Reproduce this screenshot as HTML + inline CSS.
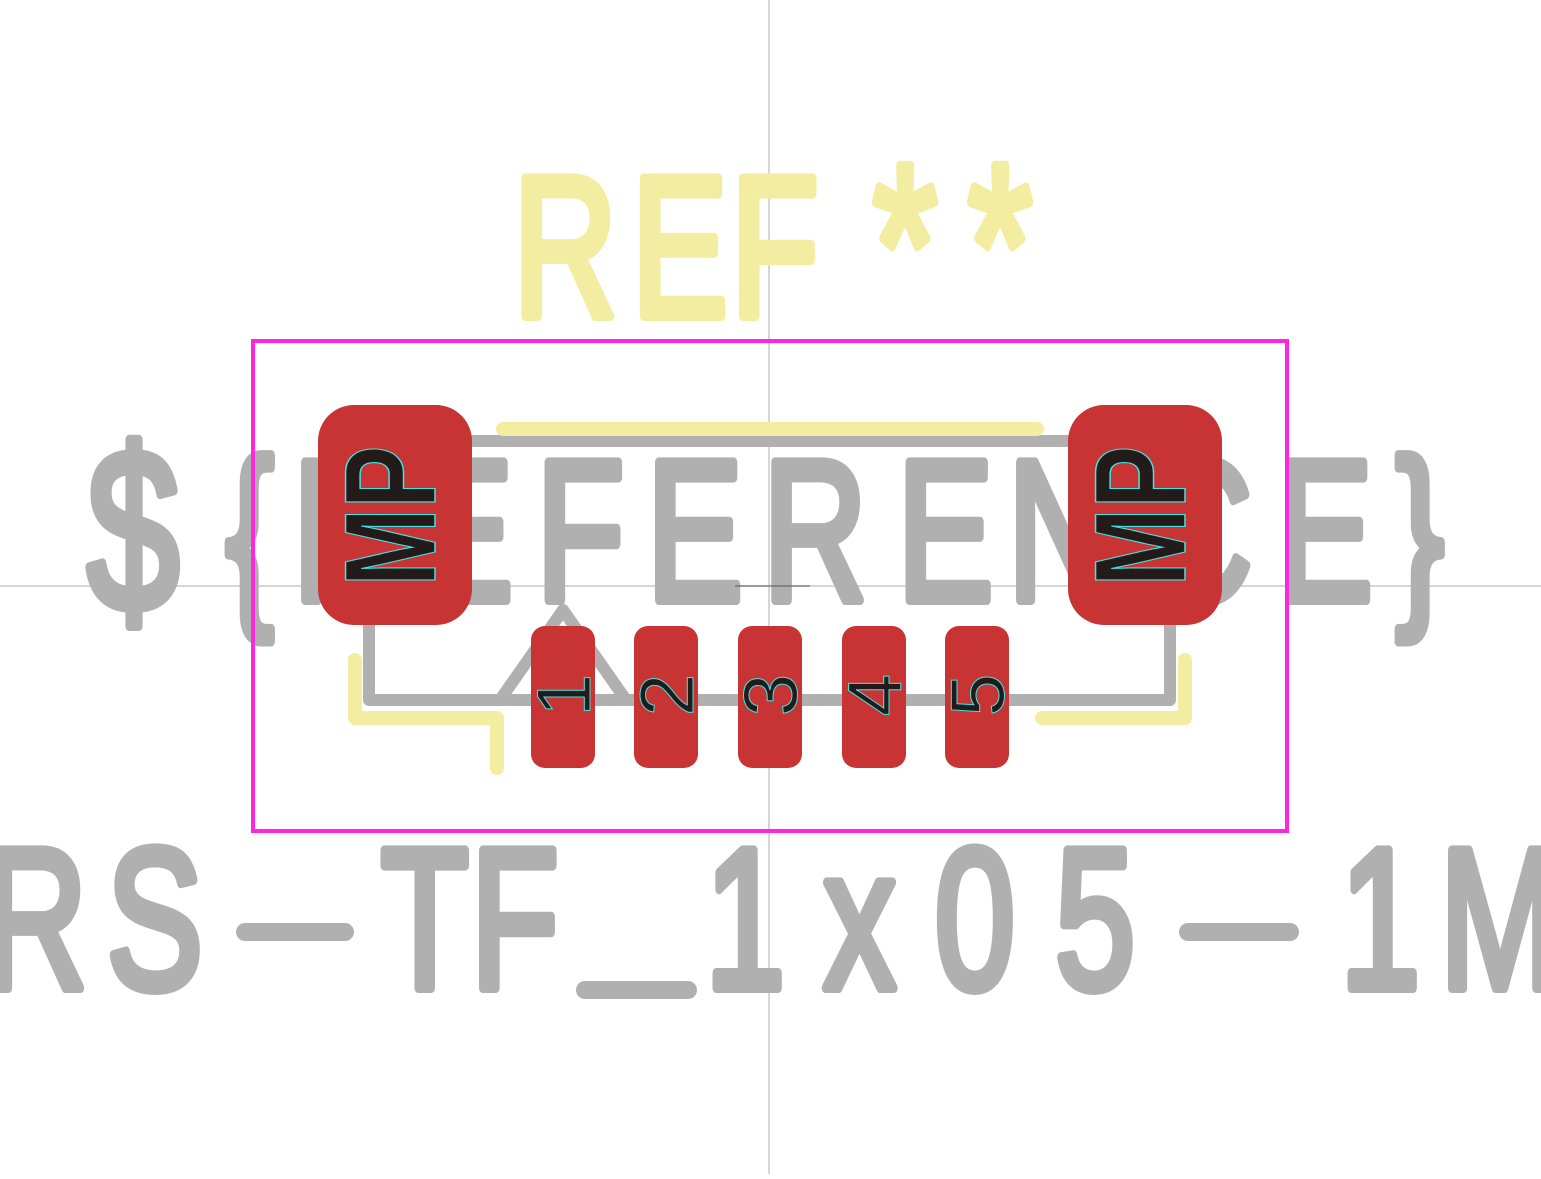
<!DOCTYPE html>
<html><head><meta charset="utf-8"><style>html,body{margin:0;padding:0;background:#fff;overflow:hidden}</style></head>
<body>
<svg width="1541" height="1174" viewBox="0 0 1541 1174" xmlns="http://www.w3.org/2000/svg">
<rect width="1541" height="1174" fill="#fff"/>
<line x1="769" y1="0" x2="769" y2="1174" stroke="#c8c8c8" stroke-width="1.5"/>
<line x1="0" y1="586" x2="1541" y2="586" stroke="#c8c8c8" stroke-width="1.5"/>

<!-- REF** -->
<g font-family="Liberation Sans, sans-serif" font-size="200" fill="#f2eda1" stroke="#f2eda1" stroke-width="10" stroke-linejoin="round" text-anchor="middle">
<g transform="translate(0,316) scale(0.72,1)">
<text x="785 944 1076" y="0">REF</text>
<text x="1257 1389" y="8" font-size="230">**</text>
</g>
</g>

<!-- ${REFERENCE} -->
<g font-family="Liberation Sans, sans-serif" font-size="200" fill="#b0b0b0" stroke="#b0b0b0" stroke-width="10" stroke-linejoin="round" text-anchor="middle">
<g transform="translate(0,600) scale(0.72,1)">
<text x="185" y="10" font-size="230">$</text>
<text x="347 479 646 806 965 1132 1313 1472 1667 1840 1972" y="0">{REFERENCE}</text>
</g>
</g>

<!-- bottom value -->
<g font-family="Liberation Sans, sans-serif" font-size="200" fill="#b0b0b0" stroke="#b0b0b0" stroke-width="10" stroke-linejoin="round" text-anchor="middle">
<g transform="translate(0,988) scale(0.72,1)">
<text x="49 215 590 715 1035 1194 1354 1521 1917 2083" y="0">RSTF1x051M</text>
</g>
</g>
<g stroke="#b0b0b0" stroke-width="18" stroke-linecap="round">
<line x1="245" y1="932" x2="345" y2="932"/>
<line x1="1188" y1="932" x2="1290" y2="932"/>
<line x1="585" y1="990" x2="688" y2="990"/>
</g>

<!-- fab outline -->
<g stroke="#b0b0b0" stroke-width="12" fill="none" stroke-linecap="round" stroke-linejoin="round">
<line x1="470" y1="441" x2="1070" y2="441"/>
<polyline points="369,620 369,700 1170,700 1170,620"/>
<polyline points="500,700 563,610 626,700"/>
</g>

<!-- silkscreen -->
<g stroke="#f2eda1" stroke-width="14" fill="none" stroke-linecap="round" stroke-linejoin="round">
<line x1="503" y1="429" x2="1037" y2="429"/>
<polyline points="355,660 355,718 497,718 497,768"/>
<polyline points="1185,660 1185,718 1042,718"/>
</g>

<!-- courtyard -->
<rect x="253" y="341" width="1034" height="490" fill="none" stroke="#ff26e2" stroke-width="4"/>

<!-- pads -->
<g fill="#c83434">
<rect x="318" y="405" width="154" height="220" rx="36"/>
<rect x="1068" y="405" width="154" height="220" rx="36"/>
<rect x="531" y="626" width="64" height="142" rx="14"/>
<rect x="634" y="626" width="64" height="142" rx="14"/>
<rect x="738" y="626" width="64" height="142" rx="14"/>
<rect x="842" y="626" width="64" height="142" rx="14"/>
<rect x="945" y="626" width="64" height="142" rx="14"/>
</g>

<line x1="735" y1="586" x2="810" y2="586" stroke="#555" stroke-width="1"/>

<g font-family="Liberation Sans, sans-serif" fill="#231a1a" stroke="#3ee6e6" stroke-width="1" text-anchor="middle">
<g transform="translate(388,516) rotate(-90) scale(0.72,1)"><text x="0" y="47" font-size="130" font-weight="bold" stroke-width="1.5">MP</text></g>
<g transform="translate(1138,516) rotate(-90) scale(0.72,1)"><text x="0" y="47" font-size="130" font-weight="bold" stroke-width="1.5">MP</text></g>
<g font-size="76">
<text transform="translate(563,695) rotate(-90)" x="0" y="27">1</text>
<text transform="translate(666,695) rotate(-90)" x="0" y="27">2</text>
<text transform="translate(770,695) rotate(-90)" x="0" y="27">3</text>
<text transform="translate(874,695) rotate(-90)" x="0" y="27">4</text>
<text transform="translate(977,695) rotate(-90)" x="0" y="27">5</text>
</g>
</g>
</svg>
</body></html>
